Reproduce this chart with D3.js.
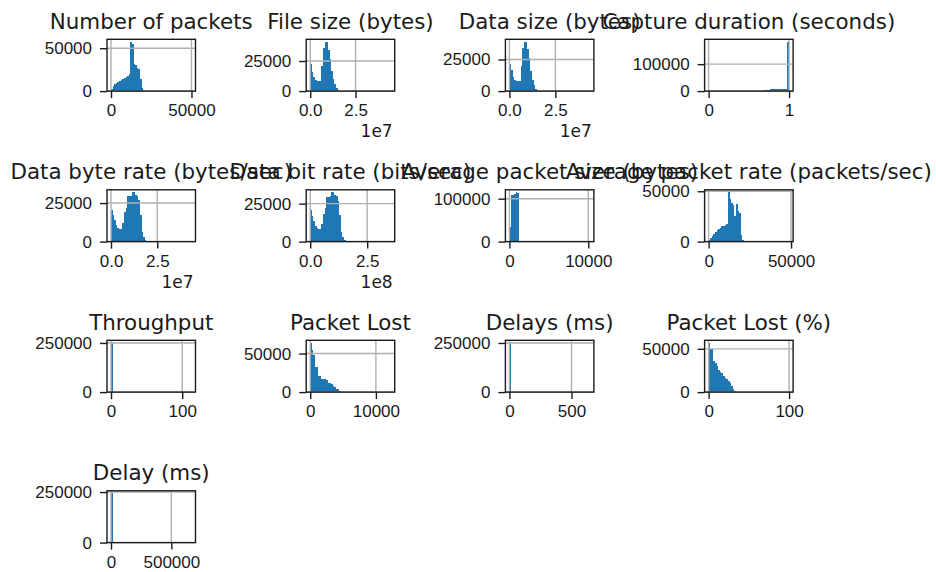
<!DOCTYPE html>
<html>
<head>
<meta charset="UTF-8">
<title>Histograms</title>
<script src="https://d3js.org/d3.v7.min.js"></script>
<style>
  body { margin: 0; background: #fff; }
  svg { display: block; font-family: "DejaVu Sans", sans-serif; }
  .title { font-size: 21.4px; fill: #1a1a1a; }
  .tick text { font-size: 17px; fill: #1a1a1a; }
  .offset { font-size: 17px; fill: #1a1a1a; }
  .tick line { stroke: #1a1a1a; stroke-width: 1.4px; }
  .grid { stroke: #b0b0b0; stroke-width: 1.4px; }
  .spine { fill: none; stroke: #1a1a1a; stroke-width: 1.4px; }
  .bar { fill: #1f77b4; shape-rendering: crispEdges; }
</style>
</head>
<body>
<svg width="936" height="572"></svg>
<script>
const titles = [
  "Number of packets", "File size (bytes)", "Data size (bytes)", "Capture duration (seconds)",
  "Data byte rate (bytes/sec)", "Data bit rate (bits/sec)", "Average packet size (bytes)", "Average packet rate (packets/sec)",
  "Throughput", "Packet Lost", "Delays (ms)", "Packet Lost (%)",
  "Delay (ms)"
];

// upper edge of the 50 bins (lower edge is 0)
const binMax = [50000, 4.44e7, 4.38e7, 1, 4.35e7, 3.53e8, 10200, 48800, 113, 12250, 648, 100, 667000];
const binCount = 50;

const xTickValues = [
  [0, 50000], [0, 2.5e7], [0, 2.5e7], [0, 1],
  [0, 2.5e7], [0, 2.5e8], [0, 10000], [0, 50000],
  [0, 100], [0, 10000], [0, 500], [0, 100],
  [0, 500000]
];
const xTickLabels = [
  ["0", "50000"], ["0.0", "2.5"], ["0.0", "2.5"], ["0", "1"],
  ["0.0", "2.5"], ["0.0", "2.5"], ["0", "10000"], ["0", "50000"],
  ["0", "100"], ["0", "10000"], ["0", "500"], ["0", "100"],
  ["0", "500000"]
];
const xOffsets = ["", "1e7", "1e7", "", "1e7", "1e8", "", "", "", "", "", "", ""];
const yTickValues = [
  [0, 50000], [0, 25000], [0, 25000], [0, 100000],
  [0, 25000], [0, 25000], [0, 100000], [0, 50000],
  [0, 250000], [0, 50000], [0, 250000], [0, 50000],
  [0, 250000]
];

// bin counts, first bin onward (bins after the last listed one are empty)
const packetsCounts = [2500, 6000, 8500, 10000, 11000, 12000, 13000, 14000, 15000, 16500, 18000, 20000,
  57500, 55000, 32000, 30000, 27000, 26000, 14500, 4000, 1500, 300];
const fileSizeCounts = [22500, 16000, 12000, 9000, 8000, 8000, 8200, 21000, 36000, 40500, 41000, 34000,
  27000, 17000, 10000, 6000, 2500, 1000, 400, 100];
const dataSizeCounts = [21500, 16500, 11000, 8500, 7700, 7700, 8000, 20000, 34000, 38500, 39000, 33000,
  26000, 16000, 9000, 5000, 2000, 800, 300, 100];
const durationCounts = [0, 0, 0, 0, 0, 0, 0, 0, 0, 0, 0, 0, 0, 0, 0, 0, 0, 0, 0, 0,
  0, 0, 0, 0, 0, 0, 0, 0, 0, 0, 0, 0, 0, 1500, 2500, 2500, 2500, 2500, 7500, 7500,
  7500, 7500, 7500, 7500, 7500, 7500, 7500, 7500, 7500, 183000];
const byteRateCounts = [20200, 17000, 13700, 10500, 9000, 8300, 8300, 12000, 19000, 22000, 29300, 29300,
  29500, 32000, 32000, 30000, 29800, 27000, 17500, 6000, 3000, 1200, 300];
const bitRateCounts = [20800, 17000, 13500, 10500, 9000, 8600, 8600, 11500, 18500, 22000, 29500, 29500,
  30000, 32500, 32500, 30500, 30000, 27000, 17500, 6000, 3000, 1000, 200];
const packetSizeCounts = [35000, 108000, 109000, 112000, 115000, 114000];
const packetRateCounts = [2000, 3500, 5500, 7500, 9500, 11500, 13000, 14000, 15000, 15500, 16000, 17000,
  49000, 42000, 38000, 36000, 25000, 37000, 30000, 28000, 6700, 2000, 1000, 300];
const throughputCounts = [251000];
const packetLostCounts = [64000, 54500, 48000, 32000, 32000, 21000, 21000, 16500, 16500, 16500, 16000, 12000,
  12000, 11000, 7600, 7000, 4500, 4000, 1800, 400];
const delaysCounts = [251000];
const packetLostPctCounts = [57000, 50000, 50000, 36000, 34000, 30000, 26000, 23000, 22000, 19000, 16500, 15700,
  12600, 11000, 6700, 4000, 1600, 500];
const delayCounts = [244000];

const allCounts = [packetsCounts, fileSizeCounts, dataSizeCounts, durationCounts,
  byteRateCounts, bitRateCounts, packetSizeCounts, packetRateCounts,
  throughputCounts, packetLostCounts, delaysCounts, packetLostPctCounts,
  delayCounts];

const svg = d3.select("svg");
const colLeft = 107, colPitch = 199.2, axW = 88.5;
const rowTop = 39.3, rowPitch = 150.5, axH = 51.8;

titles.forEach((title, i) => {
  const col = i % 4, row = Math.floor(i / 4);
  const left = colLeft + col * colPitch;
  const top = rowTop + row * rowPitch;
  const counts = allCounts[i];
  const bw = binMax[i] / binCount;

  const x = d3.scaleLinear()
    .domain([-0.05 * binMax[i], 1.05 * binMax[i]])
    .range([left, left + axW]);
  const y = d3.scaleLinear()
    .domain([0, 1.05 * d3.max(counts)])
    .range([top + axH, top]);

  const g = svg.append("g");

  // bars
  g.selectAll(".bar")
    .data(counts.map((c, j) => ({ j: j, c: c })).filter(d => d.c > 0))
    .enter().append("rect")
    .attr("class", "bar")
    .attr("x", d => x(d.j * bw))
    .attr("width", d => x((d.j + 1) * bw) - x(d.j * bw))
    .attr("y", d => y(d.c))
    .attr("height", d => y(0) - y(d.c));

  // grid
  g.selectAll(".gx")
    .data(xTickValues[i])
    .enter().append("line")
    .attr("class", "grid")
    .attr("x1", d => x(d)).attr("x2", d => x(d))
    .attr("y1", top).attr("y2", top + axH);
  g.selectAll(".gy")
    .data(yTickValues[i])
    .enter().append("line")
    .attr("class", "grid")
    .attr("y1", d => y(d)).attr("y2", d => y(d))
    .attr("x1", left).attr("x2", left + axW);

  // axes
  const xAxis = g.append("g")
    .attr("transform", "translate(0," + (top + axH) + ")")
    .call(d3.axisBottom(x)
      .tickValues(xTickValues[i])
      .tickFormat((d, j) => xTickLabels[i][j])
      .tickSizeOuter(0).tickSize(7).tickPadding(6));
  xAxis.select(".domain").remove();

  const yAxis = g.append("g")
    .attr("transform", "translate(" + left + ",0)")
    .call(d3.axisLeft(y)
      .tickValues(yTickValues[i])
      .tickFormat(d3.format("d"))
      .tickSizeOuter(0).tickSize(7).tickPadding(8));
  yAxis.select(".domain").remove();

  // spines
  g.append("rect")
    .attr("class", "spine")
    .attr("x", left).attr("y", top)
    .attr("width", axW).attr("height", axH);

  if (xOffsets[i]) {
    g.append("text")
      .attr("class", "offset")
      .attr("x", left + axW - 2)
      .attr("y", top + axH + 46)
      .attr("text-anchor", "end")
      .text(xOffsets[i]);
  }

  g.append("text")
    .attr("class", "title")
    .attr("x", left + axW / 2)
    .attr("y", top - 10.5)
    .attr("text-anchor", "middle")
    .text(title);
});
</script>
</body>
</html>
